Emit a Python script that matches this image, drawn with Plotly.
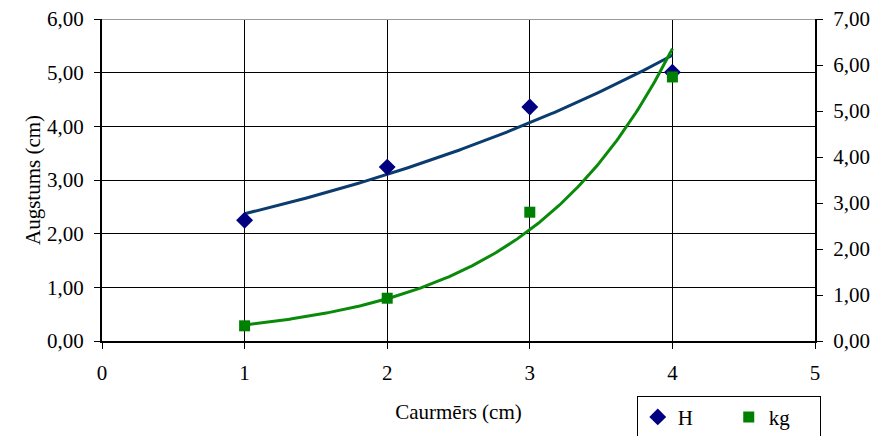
import numpy as np
import plotly.graph_objects as go

# Measured points
caurmers = [1, 2, 3, 4]
augstums_h = [2.25, 3.24, 4.36, 5.01]   # left axis (cm)
masa_kg = [0.33, 0.93, 2.80, 5.74]      # right axis (kg)

x_ticks = [0, 1, 2, 3, 4, 5]


def exp_trend(x, y, xs):
    """Exponential least-squares trend y = a*exp(b*x)."""
    b, ln_a = np.polyfit(np.asarray(x, float), np.log(np.asarray(y, float)), 1)
    return np.exp(ln_a) * np.exp(b * xs)


xs = np.linspace(1, 4, 200)
trend_h = exp_trend(caurmers, augstums_h, xs)
trend_kg = exp_trend(caurmers, masa_kg, xs)

FONT = "Times New Roman"

fig = go.Figure()

fig.add_trace(go.Scatter(
    x=xs, y=trend_h, mode="lines", showlegend=False,
    line=dict(color="#0b3c6e", width=3), hoverinfo="skip"))
fig.add_trace(go.Scatter(
    x=xs, y=trend_kg, mode="lines", showlegend=False, yaxis="y2",
    line=dict(color="#0a8a0a", width=3), hoverinfo="skip"))

fig.add_trace(go.Scatter(
    x=caurmers, y=augstums_h, mode="markers", name="H",
    marker=dict(symbol="diamond", size=13, color="#000080")))
fig.add_trace(go.Scatter(
    x=caurmers, y=masa_kg, mode="markers", name="kg", yaxis="y2",
    marker=dict(symbol="square", size=11, color="#008000")))

# top border of the plot area
fig.add_shape(type="line", xref="x", yref="y", x0=0, x1=5, y0=6, y1=6,
              line=dict(color="#9a9a9a", width=2), layer="above")

fig.update_layout(
    width=874, height=436,
    margin=dict(l=102, r=59, t=19, b=95, autoexpand=False),
    paper_bgcolor="white", plot_bgcolor="white",
    separators=",.",
    font=dict(family=FONT, size=21, color="black"),
    xaxis=dict(
        range=[0, 5], tickvals=x_ticks, ticktext=[str(v) for v in x_ticks],
        showgrid=True, gridcolor="#000000", gridwidth=1,
        showline=True, linecolor="#000000", linewidth=2,
        ticks="outside", ticklen=6, tickcolor="#000000",
        zeroline=False, ticklabelstandoff=6, automargin=False,
        title=dict(text="Caurmērs (cm)", font=dict(size=21), standoff=20),
    ),
    yaxis=dict(
        range=[0, 6], dtick=1, tickformat=".2f",
        showgrid=True, gridcolor="#000000", gridwidth=1,
        showline=True, linecolor="#000000", linewidth=2,
        ticks="outside", ticklen=6, tickcolor="#000000",
        zeroline=False, automargin=False, ticklabelstandoff=6,
        title=dict(text="Augstums (cm)", font=dict(size=21), standoff=1),
    ),
    yaxis2=dict(
        range=[0, 7], dtick=1, tickformat=".2f", overlaying="y", side="right",
        showgrid=False, showline=True, linecolor="#000000", linewidth=2,
        ticks="outside", ticklen=6, tickcolor="#000000", zeroline=False,
        automargin=False, ticklabelstandoff=6,
    ),
    legend=dict(
        orientation="h", x=0.75, xanchor="left", y=-0.17, yanchor="top",
        bordercolor="#000000", borderwidth=1, bgcolor="white",
        font=dict(size=21), entrywidth=46, itemwidth=30,
    ),
)

fig.write_html("out.html")
